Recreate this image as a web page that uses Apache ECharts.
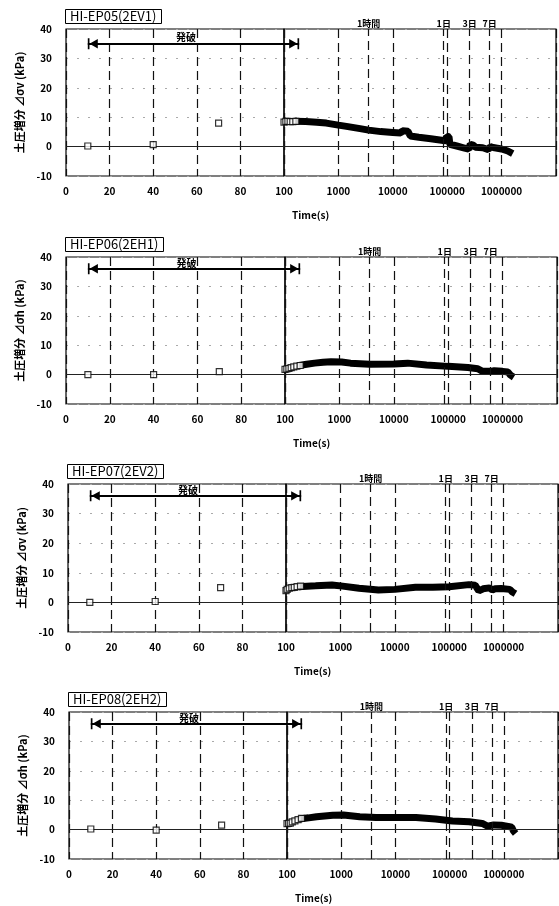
<!DOCTYPE html>
<html>
<head>
<meta charset="utf-8">
<script src="https://cdn.jsdelivr.net/npm/echarts@6/dist/echarts.min.js"></script>
<style>
  html, body { margin: 0; padding: 0; background: #fff; }
  #chart { width: 559px; height: 906px; }
</style>
</head>
<body>
<div id="chart"></div>
<script>
// panel labels
const panelTitles = ['HI-EP05(2EV1)', 'HI-EP06(2EH1)', 'HI-EP07(2EV2)', 'HI-EP08(2EH2)'];
const yNames = ['土圧増分 ⊿σv (kPa)', '土圧増分 ⊿σh (kPa)', '土圧増分 ⊿σv (kPa)', '土圧増分 ⊿σh (kPa)'];

// axis ticks / markers
const logTickLabels = [1000, 10000, 100000, 1000000];
const markerTimes = [3600, 86400, 259200, 604800];
const markerLabels = ['1時間', '1日', '3日', '7日'];
const blastRange = [10, 190];
const blastLabel = '発破';

// blasting phase (linear part, s)
const blastTimes = [10, 40, 70];
const blastP5 = [0.2, 0.7, 8.0];
const blastP6 = [0.0, 0.0, 1.0];
const blastP7 = [0.0, 0.3, 5.0];
const blastP8 = [0.2, -0.2, 1.5];

// first readings after blasting (log part)
const firstTimesP5 = [100, 108, 118, 130, 145, 165];
const firstP5 = [8.3, 8.6, 8.6, 8.5, 8.5, 8.6];
const firstTimesP6 = [100, 108, 118, 130, 145, 165, 190];
const firstP6 = [1.8, 1.9, 2.1, 2.4, 2.6, 2.9, 3.1];
const firstTimesP7 = [100, 105, 115, 128, 142, 160, 185];
const firstP7 = [4.0, 4.4, 4.8, 5.0, 5.1, 5.3, 5.5];
const firstTimesP8 = [100, 107, 115, 125, 140, 160, 185];
const firstP8 = [2.0, 2.1, 2.2, 2.6, 3.0, 3.4, 3.8];

// long term record
const longTimesP5 = [150, 250, 400, 600, 1000, 1500, 2500, 3600, 6000, 10000, 14000, 15000, 19000, 21000, 30000, 50000, 85000, 95000, 97000, 108000, 112000, 150000, 200000, 250000, 265000, 300000, 330000, 450000, 570000, 620000, 700000, 1000000, 1300000, 1600000];
const longP5 = [8.6, 8.5, 8.3, 8.0, 7.3, 6.8, 6.1, 5.6, 5.1, 4.8, 4.6, 5.4, 5.2, 3.6, 3.2, 2.7, 2.1, 2.0, 3.6, 3.3, 0.8, 0.2, -0.4, -0.9, 0.8, 0.5, -0.2, -0.4, -1.0, 0.0, -0.3, -0.8, -1.5, -2.4];
const longTimesP6 = [170, 250, 350, 500, 700, 1100, 1600, 3600, 10000, 18000, 40000, 100000, 230000, 350000, 420000, 600000, 700000, 1000000, 1250000, 1400000, 1600000];
const longP6 = [3.0, 3.5, 3.9, 4.2, 4.4, 4.3, 3.9, 3.5, 3.6, 3.9, 3.3, 2.8, 2.4, 2.0, 1.2, 1.1, 1.3, 1.1, 0.9, -0.2, -0.9];
const longTimesP7 = [170, 350, 700, 1100, 2200, 5000, 10000, 24000, 50000, 100000, 230000, 300000, 350000, 420000, 550000, 620000, 700000, 900000, 1300000, 1450000, 1650000];
const longP7 = [5.3, 5.6, 5.9, 5.5, 4.8, 4.2, 4.4, 5.1, 5.1, 5.3, 6.0, 5.8, 3.9, 4.6, 4.9, 4.2, 4.6, 4.7, 4.4, 3.5, 2.9];
const longTimesP8 = [170, 250, 350, 700, 1100, 2200, 4400, 10000, 24000, 55000, 113000, 230000, 400000, 500000, 650000, 900000, 1200000, 1400000, 1500000, 1650000];
const longP8 = [3.6, 4.0, 4.4, 4.9, 5.0, 4.4, 4.1, 4.1, 4.1, 3.6, 2.9, 2.7, 2.1, 1.2, 1.6, 1.5, 1.1, 0.8, -0.4, -1.3];

const panels = [
  { blast: blastP5, firstT: firstTimesP5, first: firstP5, longT: longTimesP5, long: longP5, arrowY: 35 },
  { blast: blastP6, firstT: firstTimesP6, first: firstP6, longT: longTimesP6, long: longP6, arrowY: 36 },
  { blast: blastP7, firstT: firstTimesP7, first: firstP7, longT: longTimesP7, long: longP7, arrowY: 36 },
  { blast: blastP8, firstT: firstTimesP8, first: firstP8, longT: longTimesP8, long: longP8, arrowY: 36 }
];

// pixel layout of each panel
const boxes = [
  { left: 66, split: 284, right: 556, top: 29, bottom: 176 },
  { left: 66, split: 285, right: 557, top: 257, bottom: 404 },
  { left: 68, split: 286, right: 558, top: 484, bottom: 632 },
  { left: 69, split: 287, right: 558, top: 712, bottom: 859 }
];

const FONT = 'Noto Sans CJK JP';
const barArrow = 'path://M0,0 L14,0 L14,2 L0,2 Z M7,2 L13,12 L1,12 Z';
const dashed = { color: '#111', width: 1.2, type: [9, 5] };
const faint = { color: '#aaa', width: 1, type: [2, 9] };
const pairs = (ts, vs) => ts.map((t, k) => [t, vs[k]]);

const chartDom = document.getElementById('chart');
const myChart = echarts.init(chartDom);

const grid = [], xAxis = [], yAxis = [], series = [], title = [];

panels.forEach((p, i) => {
  const b = boxes[i];
  const h = b.bottom - b.top;
  grid.push(
    { left: b.left, top: b.top, width: b.split - b.left, height: h, show: true, borderColor: '#000', borderWidth: 1.2, outerBoundsMode: 'none' },
    { left: b.split, top: b.top, width: b.right - b.split, height: h, show: true, borderColor: '#000', borderWidth: 1.2, outerBoundsMode: 'none' }
  );
  const labelStyle = { color: '#000', fontSize: 10, fontWeight: 'bold', fontFamily: FONT, margin: 10 };
  xAxis.push(
    {
      gridIndex: 2 * i, type: 'value', min: 0, max: 100, interval: 20,
      axisLine: { show: false }, axisTick: { show: false },
      axisLabel: labelStyle,
      splitLine: { show: true, lineStyle: dashed }
    },
    {
      gridIndex: 2 * i + 1, type: 'log', logBase: 10, min: 100, max: 10000000,
      axisLine: { show: false }, axisTick: { show: false },
      axisLabel: Object.assign({}, labelStyle, {
        formatter: v => logTickLabels.includes(Math.round(v)) ? String(Math.round(v)) : ''
      }),
      splitLine: { show: true, lineStyle: dashed }
    }
  );
  yAxis.push(
    {
      gridIndex: 2 * i, type: 'value', min: -10, max: 40, interval: 10,
      name: yNames[i], nameLocation: 'middle', nameGap: 41,
      nameTextStyle: { color: '#000', fontSize: 11, fontWeight: 'bold', fontFamily: FONT },
      axisLine: { show: false }, axisTick: { show: false },
      axisLabel: Object.assign({}, labelStyle, { margin: 14 }),
      splitLine: { show: true, lineStyle: faint }
    },
    {
      gridIndex: 2 * i + 1, type: 'value', min: -10, max: 40, interval: 10,
      axisLine: { show: false }, axisTick: { show: false }, axisLabel: { show: false },
      splitLine: { show: true, lineStyle: faint }
    }
  );

  title.push(
    {
      text: panelTitles[i], left: b.left - 1, top: b.top - 20,
      padding: [1, 5, 1, 5], borderColor: '#000', borderWidth: 1,
      textStyle: { color: '#000', fontSize: 13, fontWeight: 'normal', fontFamily: FONT, lineHeight: 13 }
    },
    {
      text: 'Time(s)', left: b.split + 8, top: b.bottom + 34, padding: 0,
      textStyle: { color: '#000', fontSize: 10, fontWeight: 'bold', fontFamily: FONT }
    }
  );

  const zeroLine = { yAxis: 0, lineStyle: { color: '#222', width: 1.2, type: 'solid' } };
  const arrowStyle = { color: '#000', width: 2, type: 'solid' };
  const squareStyle = { color: '#fff', borderColor: '#000', borderWidth: 1.2 };

  series.push(
    {
      type: 'scatter', xAxisIndex: 2 * i, yAxisIndex: 2 * i, z: 5,
      symbol: 'rect', symbolSize: 6, itemStyle: squareStyle,
      data: pairs(blastTimes, p.blast),
      markLine: {
        silent: true, symbol: ['none', 'none'], label: { show: false },
        data: [
          zeroLine,
          [
            { coord: [blastRange[0], p.arrowY], symbol: barArrow, symbolSize: [11, 10], symbolOffset: [0, 5], lineStyle: arrowStyle,
              label: { show: true, formatter: blastLabel, position: 'insideMiddleTop', distance: 1, color: '#000', fontSize: 10, fontWeight: 'bold', fontFamily: FONT } },
            { coord: [100, p.arrowY], symbol: 'none' }
          ]
        ]
      }
    },
    {
      type: 'line', xAxisIndex: 2 * i + 1, yAxisIndex: 2 * i + 1, z: 3,
      symbol: 'none', lineStyle: { color: '#000', width: 7 },
      data: pairs(p.longT, p.long),
      markLine: {
        silent: true, symbol: ['none', 'none'], label: { show: false },
        data: [
          zeroLine,
          [
            { coord: [100, p.arrowY], symbol: 'none', lineStyle: arrowStyle },
            { coord: [blastRange[1], p.arrowY], symbol: barArrow, symbolSize: [11, 10], symbolOffset: [0, 5] }
          ]
        ].concat(markerTimes.map((t, k) => ({
          xAxis: t, lineStyle: dashed,
          label: { show: true, position: 'end', distance: 1, formatter: markerLabels[k], color: '#000', fontSize: 9, fontWeight: 'bold', fontFamily: FONT }
        })))
      }
    },
    {
      type: 'scatter', xAxisIndex: 2 * i + 1, yAxisIndex: 2 * i + 1, z: 5,
      symbol: 'rect', symbolSize: 6, itemStyle: squareStyle,
      data: pairs(p.firstT, p.first)
    }
  );
});

const option = {
  backgroundColor: '#fff',
  animation: false,
  textStyle: { fontFamily: FONT },
  title: title,
  grid: grid,
  xAxis: xAxis,
  yAxis: yAxis,
  series: series
};

option && myChart.setOption(option);
</script>
</body>
</html>
